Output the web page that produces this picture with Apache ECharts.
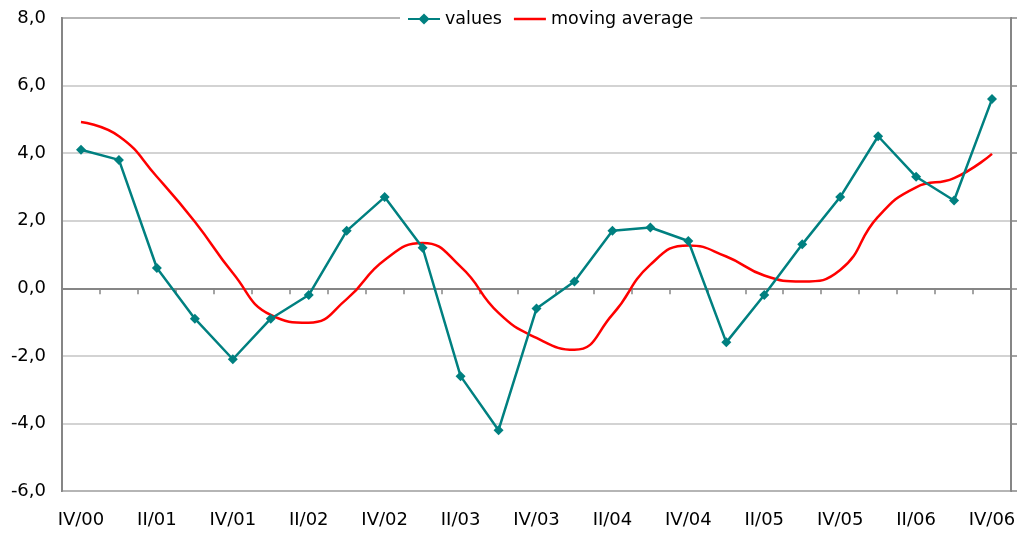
<!DOCTYPE html>
<html>
<head>
<meta charset="utf-8">
<script src="https://cdn.jsdelivr.net/npm/echarts@6/dist/echarts.min.js"></script>
<style>
  html, body { margin: 0; padding: 0; background: #fff; }
  #chart { width: 1033px; height: 536px; }
</style>
</head>
<body>
<div id="chart"></div>
<script>
const quarters = [
  'IV/00', 'I/01', 'II/01', 'III/01', 'IV/01', 'I/02', 'II/02', 'III/02', 'IV/02',
  'I/03', 'II/03', 'III/03', 'IV/03', 'I/04', 'II/04', 'III/04', 'IV/04',
  'I/05', 'II/05', 'III/05', 'IV/05', 'I/06', 'II/06', 'III/06', 'IV/06'
]
const values = [
  4.1, 3.8, 0.6, -0.9, -2.1, -0.9, -0.2, 1.7, 2.7,
  1.2, -2.6, -4.2, -0.6, 0.2, 1.7, 1.8, 1.4,
  -1.6, -0.2, 1.3, 2.7, 4.5, 3.3, 2.6, 5.6
]
const movingAverage = [
  4.92, 4.5, 3.3, 1.97, 0.45, -0.79, -1.02, -0.32, 0.84,
  1.34, 0.64, -0.73, -1.47, -1.82, -0.78, 0.7, 1.27,
  0.94, 0.38, 0.2, 0.54, 2.12, 2.99, 3.26, 3.98
]
const yMin = -6
const yMax = 8
const yStep = 2

const font = 'DejaVu Sans'
const axisGray = '#868686'
const gridGray = '#c4c4c4'

const chart = echarts.init(document.getElementById('chart'))

const option = {
  animation: false,
  backgroundColor: '#fff',
  textStyle: { fontFamily: font },
  grid: {
    left: 62,
    right: 22,
    top: 18,
    bottom: 45,
    containLabel: false,
    outerBoundsMode: 'none',
    show: true,
    borderColor: axisGray,
    borderWidth: 2
  },
  legend: {
    top: 9,
    left: 400,
    padding: [1, 7],
    backgroundColor: '#fff',
    itemWidth: 32,
    itemHeight: 14,
    itemGap: 12,
    textStyle: { fontSize: 17.5, color: '#000', fontFamily: font },
    data: [
      { name: 'values' },
      // plain red line in the legend, no marker
      { name: 'moving average', icon: 'path://M0,0L32,0L32,2.6L0,2.6Z' }
    ]
  },
  xAxis: [
    {
      // axis line through zero with ticks between categories
      type: 'category',
      data: quarters,
      boundaryGap: true,
      position: 'bottom',
      axisLine: { onZero: true, lineStyle: { color: axisGray, width: 2 } },
      axisTick: { show: true, interval: 0, length: 6, lineStyle: { color: axisGray, width: 1.5 } },
      axisLabel: { show: false },
      splitLine: { show: false }
    },
    {
      // labels along the bottom
      type: 'category',
      data: quarters,
      boundaryGap: true,
      position: 'bottom',
      axisLine: { show: false, onZero: false },
      axisTick: { show: false },
      axisLabel: { interval: 1, margin: 20, fontSize: 18, color: '#000', fontFamily: font },
      splitLine: { show: false }
    }
  ],
  yAxis: [
    {
      type: 'value',
      min: yMin,
      max: yMax,
      interval: yStep,
      position: 'left',
      axisLine: { show: true, lineStyle: { color: axisGray, width: 2 } },
      axisTick: { show: false },
      axisLabel: {
        margin: 16,
        fontSize: 18,
        color: '#000',
        fontFamily: font,
        formatter: v => v.toFixed(1).replace('.', ',')
      },
      splitLine: { show: true, lineStyle: { color: gridGray, width: 1.5 } }
    },
    {
      type: 'value',
      min: yMin,
      max: yMax,
      interval: yStep,
      position: 'right',
      axisLine: { show: true, lineStyle: { color: axisGray, width: 2 } },
      axisTick: { show: true, length: 6, lineStyle: { color: axisGray, width: 1.5 } },
      axisLabel: { show: false },
      splitLine: { show: false }
    }
  ],
  series: [
    {
      name: 'values',
      type: 'line',
      xAxisIndex: 0,
      yAxisIndex: 0,
      data: values,
      symbol: 'diamond',
      symbolSize: 10,
      lineStyle: { color: '#008080', width: 2.5 },
      itemStyle: { color: '#008080' },
      z: 3
    },
    {
      name: 'moving average',
      type: 'line',
      xAxisIndex: 0,
      yAxisIndex: 0,
      data: movingAverage,
      smooth: 0.5,
      symbol: 'none',
      lineStyle: { color: '#ff0000', width: 2.5 },
      itemStyle: { color: '#ff0000' },
      z: 2
    }
  ]
}

chart.setOption(option)
window.addEventListener('resize', () => chart.resize())
</script>
</body>
</html>
